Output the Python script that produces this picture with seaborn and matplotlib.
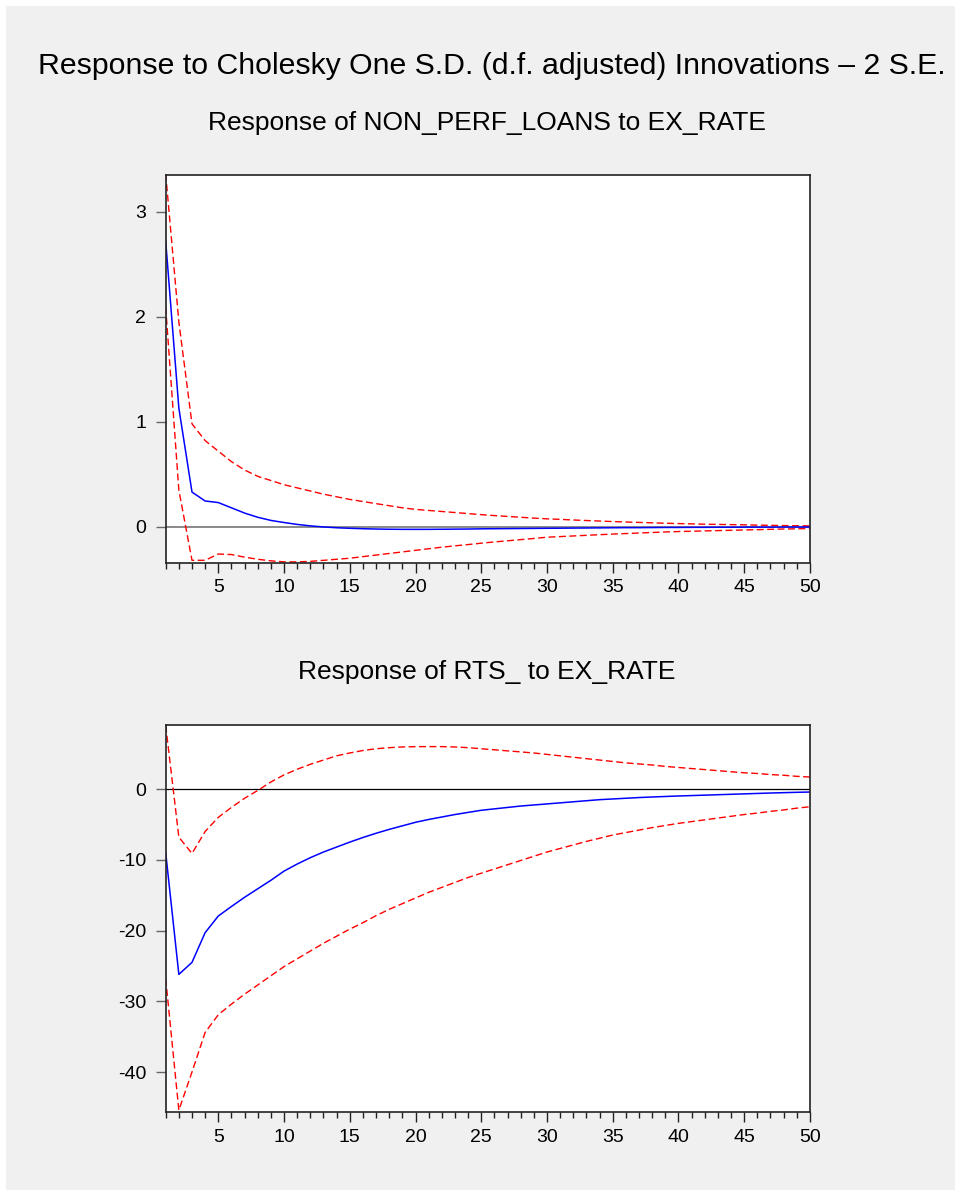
import numpy as np
import pandas as pd
import seaborn as sns
import matplotlib.pyplot as plt
from matplotlib.patches import Rectangle
from matplotlib.ticker import MultipleLocator

periods = list(range(1, 51))

# Response of NON_PERF_LOANS to EX_RATE
npl_resp = [2.72, 1.13, 0.33, 0.245, 0.23, 0.18, 0.13, 0.09, 0.06, 0.04,
            0.022, 0.008, -0.002, -0.01, -0.015, -0.019, -0.022, -0.024, -0.025, -0.025,
            -0.025, -0.024, -0.023, -0.022, -0.02, -0.019, -0.018, -0.017, -0.016, -0.015,
            -0.014, -0.013, -0.012, -0.011, -0.01, -0.009, -0.009, -0.008, -0.007, -0.007,
            -0.006, -0.006, -0.005, -0.005, -0.004, -0.004, -0.004, -0.003, -0.003, -0.003]
npl_upper = [3.36, 1.95, 0.98, 0.82, 0.72, 0.62, 0.54, 0.48, 0.44, 0.40,
             0.37, 0.34, 0.31, 0.285, 0.26, 0.24, 0.22, 0.20, 0.18, 0.165,
             0.155, 0.145, 0.135, 0.125, 0.115, 0.106, 0.098, 0.09, 0.082, 0.075,
             0.07, 0.064, 0.059, 0.054, 0.049, 0.045, 0.041, 0.037, 0.033, 0.03,
             0.027, 0.024, 0.022, 0.02, 0.018, 0.015, 0.013, 0.011, 0.009, 0.008]
npl_lower = [2.09, 0.35, -0.32, -0.32, -0.26, -0.265, -0.29, -0.31, -0.325, -0.335,
             -0.335, -0.33, -0.32, -0.31, -0.30, -0.285, -0.27, -0.255, -0.24, -0.225,
             -0.21, -0.195, -0.182, -0.17, -0.157, -0.145, -0.134, -0.123, -0.112, -0.10,
             -0.094, -0.088, -0.082, -0.076, -0.07, -0.065, -0.06, -0.055, -0.05, -0.046,
             -0.043, -0.04, -0.037, -0.034, -0.031, -0.028, -0.025, -0.022, -0.02, -0.017]

# Response of RTS_ to EX_RATE
rts_resp = [-9.0, -26.2, -24.5, -20.3, -17.95, -16.6, -15.3, -14.1, -12.9, -11.6,
            -10.6, -9.7, -8.9, -8.2, -7.5, -6.85, -6.25, -5.7, -5.2, -4.7,
            -4.3, -3.95, -3.6, -3.3, -3.0, -2.8, -2.6, -2.4, -2.25, -2.1,
            -1.95, -1.8, -1.65, -1.5, -1.4, -1.3, -1.2, -1.12, -1.05, -0.98,
            -0.92, -0.86, -0.8, -0.74, -0.68, -0.62, -0.56, -0.51, -0.46, -0.42]
rts_upper = [9.0, -6.8, -9.1, -6.0, -4.0, -2.6, -1.3, -0.2, 1.0, 2.0,
             2.8, 3.5, 4.1, 4.7, 5.1, 5.45, 5.7, 5.85, 5.95, 6.0,
             6.0, 6.0, 5.95, 5.85, 5.7, 5.55, 5.4, 5.25, 5.1, 4.9,
             4.7, 4.5, 4.3, 4.1, 3.9, 3.7, 3.55, 3.4, 3.2, 3.05,
             2.9, 2.75, 2.6, 2.45, 2.3, 2.2, 2.05, 1.95, 1.8, 1.7]
rts_lower = [-26.8, -45.4, -40.0, -34.4, -31.9, -30.4, -29.0, -27.7, -26.4, -25.1,
             -24.0, -22.9, -21.8, -20.8, -19.8, -18.9, -17.9, -17.0, -16.2, -15.4,
             -14.6, -13.9, -13.2, -12.5, -11.9, -11.3, -10.7, -10.1, -9.5, -8.9,
             -8.4, -7.9, -7.4, -6.95, -6.5, -6.15, -5.8, -5.45, -5.15, -4.85,
             -4.6, -4.35, -4.1, -3.85, -3.6, -3.4, -3.15, -2.95, -2.7, -2.5]

sns.set_style('ticks')
plt.rcParams['font.family'] = ['Liberation Sans', 'DejaVu Sans']
plt.rcParams['text.color'] = 'black'
plt.rcParams['xtick.labelcolor'] = 'black'
plt.rcParams['ytick.labelcolor'] = 'black'
plt.rcParams['axes.unicode_minus'] = False

fig = plt.figure(figsize=(9.55, 11.94), dpi=100, facecolor='white')
fig.patches.append(Rectangle((6 / 955, 4 / 1194), 949 / 955, 1184 / 1194,
                             transform=fig.transFigure, facecolor='#f0f0f0',
                             edgecolor='none', zorder=-10))

fig.text(0.515, 1 - 66 / 1194, 'Response to Cholesky One S.D. (d.f. adjusted) Innovations \u2013 2 S.E.',
         ha='center', va='center', fontsize=21.8)

panels = [
    ('Response of NON_PERF_LOANS to EX_RATE', npl_resp, npl_upper, npl_lower,
     [0.1735, 0.5287, 0.6746, 0.3245], (-0.343, 3.347), [0, 1, 2, 3], '#808080', 1.3, 123),
    ('Response of RTS_ to EX_RATE', rts_resp, rts_upper, rts_lower,
     [0.1735, 0.0684, 0.6746, 0.3246], (-45.7, 9.09), [-40, -30, -20, -10, 0], 'black', 0.9, 672),
]

for title, resp, upper, lower, rect, ylim, yticks, zcol, zlw, ty in panels:
    ax = fig.add_axes(rect)
    ax.set_facecolor('white')
    ax.axhline(0, color=zcol, lw=zlw, zorder=1)
    sns.lineplot(x=periods, y=upper, ax=ax, color='#ff0000', lw=1.0)
    ax.lines[-1].set_dashes((5, 2.5))
    sns.lineplot(x=periods, y=lower, ax=ax, color='#ff0000', lw=1.0)
    ax.lines[-1].set_dashes((5, 2.5))
    sns.lineplot(x=periods, y=resp, ax=ax, color='#0000ff', lw=1.1)
    ax.set_xlim(1, 50)
    ax.set_ylim(*ylim)
    ax.set_xticks([5, 10, 15, 20, 25, 30, 35, 40, 45, 50])
    ax.xaxis.set_minor_locator(MultipleLocator(1))
    ax.set_yticks(yticks)
    ax.tick_params(axis='both', which='major', length=7, width=1, labelsize=14)
    ax.tick_params(axis='x', which='both', color='#222222', pad=5)
    ax.tick_params(axis='y', color='#666666', pad=7)
    ax.tick_params(axis='x', which='minor', length=4, width=1)
    for sp in ax.spines.values():
        sp.set_visible(True)
        sp.set_linewidth(1.2)
        sp.set_color('#222222')
    fig.text(0.51, 1 - ty / 1194, title, ha='center', va='center', fontsize=19)

fig.savefig('out.png', dpi=100, facecolor=fig.get_facecolor())
